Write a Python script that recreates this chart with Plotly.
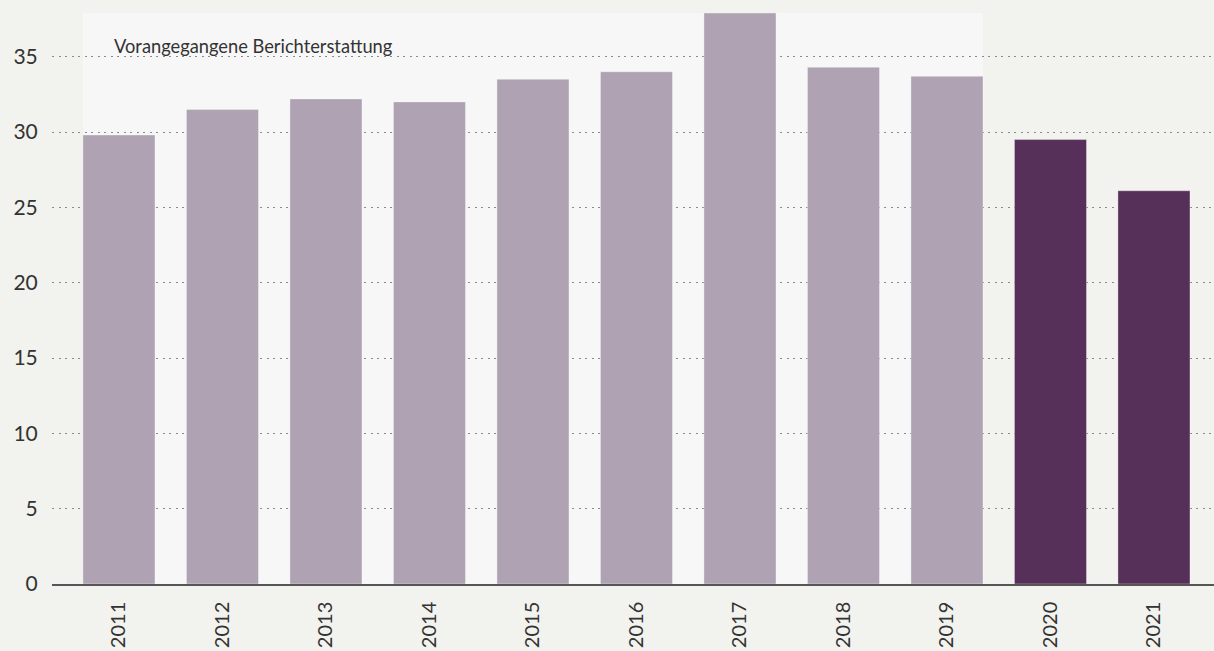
import plotly.graph_objects as go

years = ["2011", "2012", "2013", "2014", "2015", "2016", "2017", "2018", "2019", "2020", "2021"]
values = [29.8, 31.5, 32.2, 32.0, 33.5, 34.0, 37.9, 34.3, 33.7, 29.5, 26.1]
previous_count = 9  # years from earlier reporting
y_ticks = [0, 5, 10, 15, 20, 25, 30, 35]
panel_label = "Vorangegangene Berichterstattung"

LIGHT = "#afa2b3"
DARK = "#57305a"
FONT = "Lato, sans-serif"

colors = [LIGHT if i < previous_count else DARK for i in range(len(years))]

fig = go.Figure()
fig.add_trace(go.Bar(
    x=years, y=values, marker=dict(color=colors, line=dict(color="rgba(255,255,255,0.35)", width=1)),
    hoverinfo="x+y",
))

bargap = 0.304
half = (1 - bargap) / 2
fig.add_shape(type="rect", layer="below", xref="x", yref="y",
              x0=-half, x1=previous_count - 1 + half, y0=0, y1=max(values[:previous_count]),
              fillcolor="#f7f7f7", line=dict(width=0))

fig.add_annotation(x=-0.07, y=35.7, xref="x", yref="y", text=panel_label,
                   showarrow=False, xanchor="left", yanchor="middle",
                   font=dict(family=FONT, size=18.3, color="#333333"))

fig.update_layout(
    width=1214, height=651,
    margin=dict(l=52, r=0, t=13, b=67),
    paper_bgcolor="#f2f2ee", plot_bgcolor="#f2f2ee",
    bargap=bargap, showlegend=False,
    font=dict(family=FONT, size=20, color="#333333"),
)
fig.update_xaxes(type="category", range=[-0.647, 10.58], tickangle=-90,
                 ticks="outside", ticklen=8, tickcolor="rgba(0,0,0,0)",
                 showline=True, linecolor="#555555", linewidth=1.5, layer="below traces",
                 showgrid=False, automargin=False, tickfont=dict(size=20))
fig.update_yaxes(range=[0, 37.9], tickvals=y_ticks, ticks="outside", ticklen=9,
                 tickcolor="rgba(0,0,0,0)", showgrid=True, gridcolor="#8a8a8a",
                 griddash="2px,4.5px", gridwidth=1, zeroline=False, automargin=False,
                 tickfont=dict(size=21))

fig.write_html("out.html")
